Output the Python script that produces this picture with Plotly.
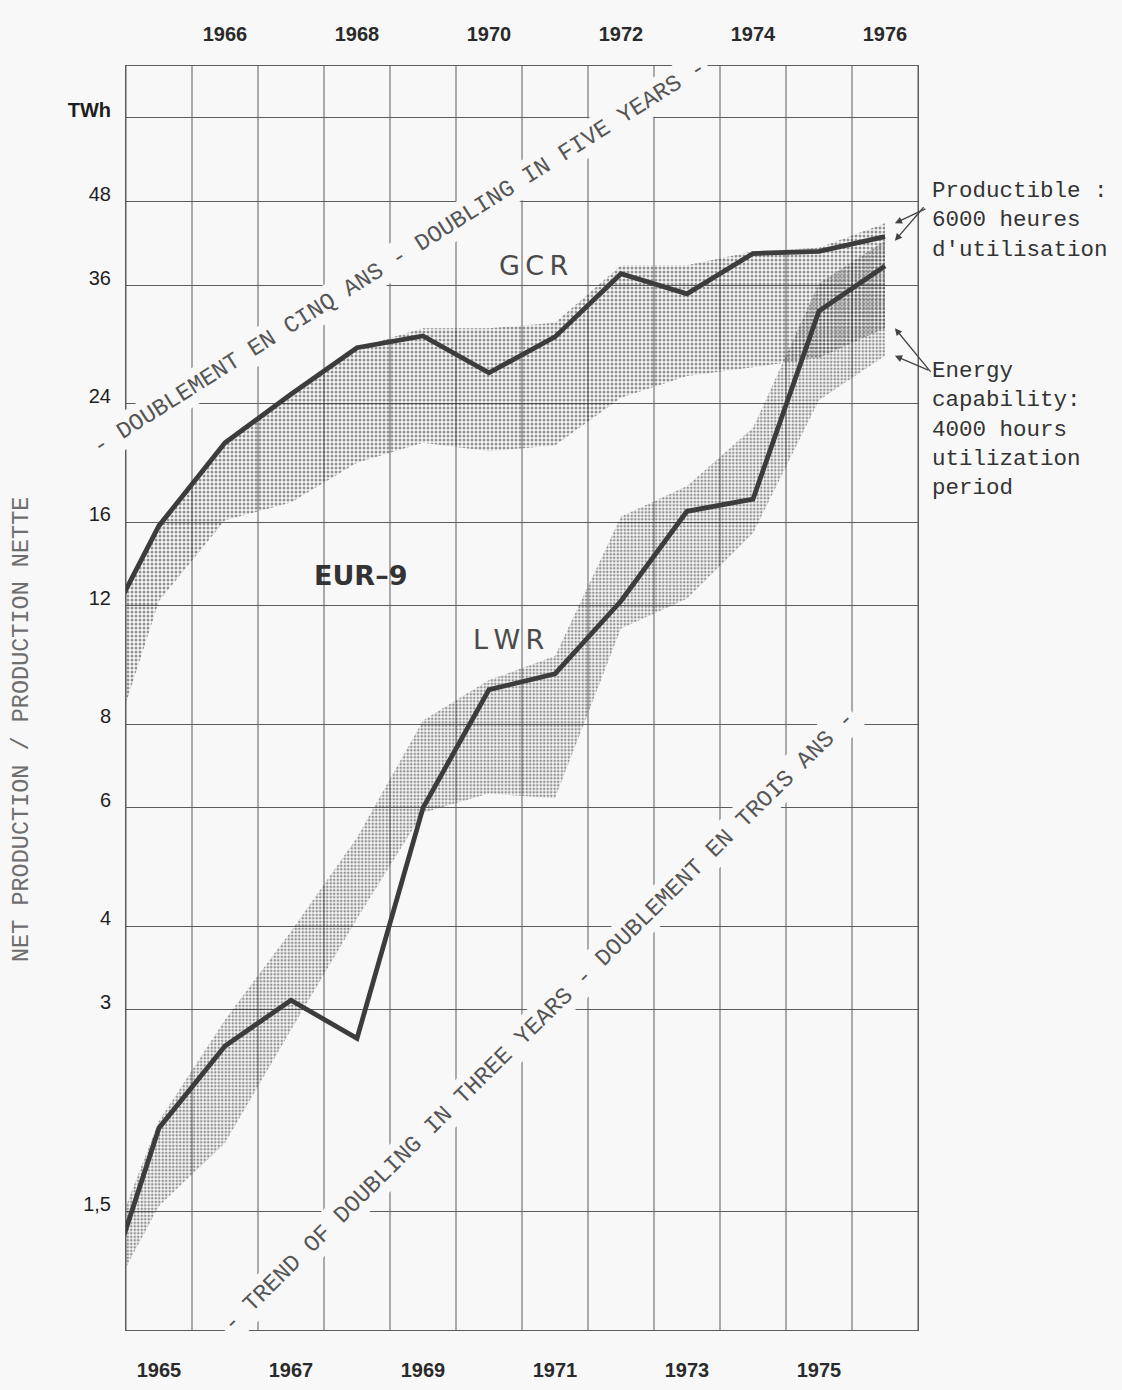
import math
import plotly.graph_objects as go

# Net nuclear production, EUR-9 (TWh), by year
years = [1964, 1965, 1966, 1967, 1968, 1969, 1970, 1971, 1972, 1973, 1974, 1975, 1976]
gcr_twh = [10.2, 15.8, 21.0, 24.8, 29.1, 30.3, 26.7, 30.2, 37.5, 35.0, 40.2, 40.5, 42.6]
lwr_twh = [1.0, 2.0, 2.65, 3.1, 2.72, 6.0, 9.0, 9.5, 12.2, 16.6, 17.3, 33.0, 38.5]

# Energy capability bands: 6000 h (upper edge) and 4000 h (lower edge)
band_years = [1964.5, 1965, 1966, 1967, 1968, 1969, 1970, 1971, 1972, 1973, 1974, 1975, 1976]
gcr_6000h = [12.6, 15.7, 21.0, 24.5, 29.1, 31.1, 31.1, 31.7, 38.6, 38.6, 40.5, 41.0, 44.6]
gcr_4000h = [8.6, 12.2, 16.1, 17.1, 19.6, 21.0, 20.4, 20.8, 24.5, 26.4, 27.2, 28.1, 31.1]
lwr_6000h = [1.53, 2.05, 2.9, 3.93, 5.42, 8.1, 9.3, 10.1, 16.3, 18.1, 22.1, 36.3, 42.0]
lwr_4000h = [1.24, 1.53, 1.9, 2.8, 4.1, 5.9, 6.3, 6.2, 11.1, 12.3, 15.4, 24.3, 28.3]

y_ticks = [1.5, 3, 4, 6, 8, 12, 16, 24, 36, 48, 64]
y_ticktext = ["1,5", "3", "4", "6", "8", "12", "16", "24", "36", "48", "<b>TWh</b>"]
top_years = [1966, 1968, 1970, 1972, 1974, 1976]
bottom_years = [1965, 1967, 1969, 1971, 1973, 1975]
x_range = [1964.5, 1976.5]
y_range = [1.0, 76.5]

BG = "#f8f8f8"
INK = "#3c3c3c"
GRID = "#5c5c5c"
MONO = "Liberation Mono, DejaVu Sans Mono, monospace"
SANS = "Liberation Sans, Arial, sans-serif"

fig = go.Figure()


def band(upper, lower, size):
    return go.Scatter(
        x=band_years + band_years[::-1],
        y=upper + lower[::-1],
        mode="lines",
        line=dict(width=0, color="rgba(0,0,0,0)"),
        fill="toself",
        fillcolor="rgba(0,0,0,0)",
        fillpattern=dict(shape=".", size=size, solidity=0.45,
                         fgcolor="#2a2a2a", bgcolor="rgba(0,0,0,0)"),
        hoverinfo="skip",
        showlegend=False,
    )


fig.add_trace(band(gcr_6000h, gcr_4000h, 4))
fig.add_trace(band(lwr_6000h, lwr_4000h, 3.5))

for vals in (gcr_twh, lwr_twh):
    fig.add_trace(go.Scatter(
        x=years, y=vals, mode="lines",
        line=dict(color=INK, width=4.8),
        hoverinfo="skip", showlegend=False,
    ))

# invisible trace that carries the top year axis
fig.add_trace(go.Scatter(
    x=x_range, y=y_range, xaxis="x2", mode="markers",
    marker=dict(opacity=0), hoverinfo="skip", showlegend=False,
))

# vertical rulings at the year boundaries
edges = [y - 0.5 for y in years[1:]] + [years[-1] + 0.5]
shapes = [
    dict(type="line", xref="x", yref="paper", x0=e, x1=e, y0=0, y1=1,
         line=dict(color=GRID, width=1), layer="below")
    for e in edges
]

annotations = [
    # trend lines labels
    dict(x=1968.64, y=math.log10(39.6), xref="x", yref="y",
         text="- DOUBLEMENT EN CINQ ANS - DOUBLING IN FIVE YEARS -",
         textangle=-32.2, showarrow=False, bgcolor=BG, borderpad=3,
         font=dict(family=MONO, size=23.5, color="#555555")),
    dict(x=1970.76, y=math.log10(2.88), xref="x", yref="y",
         text="- TREND OF DOUBLING IN THREE YEARS - DOUBLEMENT EN TROIS ANS -",
         textangle=-44.5, showarrow=False, bgcolor=BG, borderpad=3,
         font=dict(family=MONO, size=23.5, color="#555555")),
    # series labels
    dict(x=1970.67, y=math.log10(38.6), xref="x", yref="y",
         text="G\u2009C\u2009R", showarrow=False,
         font=dict(family="DejaVu Sans", size=27, color="#4a4a4a")),
    dict(x=1968.05, y=math.log10(13.3), xref="x", yref="y",
         text="<b>EUR\u20139</b>", showarrow=False,
         font=dict(family="DejaVu Sans", size=27, color="#333333")),
    dict(x=1970.29, y=math.log10(10.7), xref="x", yref="y",
         text="L\u2009W\u2009R", showarrow=False,
         font=dict(family="DejaVu Sans", size=27, color="#4a4a4a")),
    # axis title
    dict(x=-0.1313, y=0.4747, xref="paper", yref="paper",
         text="NET PRODUCTION / PRODUCTION NETTE", textangle=-90,
         showarrow=False, xanchor="center", yanchor="middle",
         font=dict(family=MONO, size=23.5, color="#6e6e6e")),
    # capability notes
    dict(x=1.0152, y=0.8774, xref="paper", yref="paper",
         text="Productible :<br>6000 heures<br>d'utilisation",
         showarrow=False, xanchor="left", yanchor="middle", align="left",
         font=dict(family=MONO, size=22.5, color="#333333")),
    dict(x=1.0152, y=0.7128, xref="paper", yref="paper",
         text="Energy<br>capability:<br>4000 hours<br>utilization<br>period",
         showarrow=False, xanchor="left", yanchor="middle", align="left",
         font=dict(family=MONO, size=22.5, color="#333333")),
]

# arrows from the notes to the band edges at 1976
arrow_tips = [
    (gcr_6000h[-1], 32, -15),
    (lwr_6000h[-1], 30, -35),
    (gcr_4000h[-1], 37, 45),
    (lwr_4000h[-1], 35, 15),
]
for val, ax, ay in arrow_tips:
    annotations.append(dict(
        x=band_years[-1] + 0.15, y=math.log10(val), xref="x", yref="y",
        text="", showarrow=True, ax=ax, ay=ay,
        arrowhead=2, arrowsize=1.1, arrowwidth=1.3, arrowcolor="#444444",
        standoff=0,
    ))

fig.update_layout(
    width=1122, height=1390,
    margin=dict(l=126, r=204, t=66, b=60),
    paper_bgcolor=BG, plot_bgcolor=BG,
    showlegend=False,
    shapes=shapes,
    annotations=annotations,
    xaxis=dict(
        range=x_range, tickmode="array", tickvals=bottom_years,
        ticktext=[f"<b>{y}</b>" for y in bottom_years],
        showgrid=False, zeroline=False, automargin=False,
        showline=True, mirror=True, linecolor=GRID, linewidth=1,
        ticks="", ticklabelstandoff=22,
        tickfont=dict(family=SANS, size=20, color="#2a2a2a"),
    ),
    xaxis2=dict(
        overlaying="x", side="top", matches="x", range=x_range,
        tickmode="array", tickvals=top_years,
        ticktext=[f"<b>{y}</b>" for y in top_years],
        showgrid=False, zeroline=False, showline=False, automargin=False,
        ticks="", ticklabelstandoff=20,
        tickfont=dict(family=SANS, size=20, color="#2a2a2a"),
    ),
    yaxis=dict(
        type="log", range=[math.log10(y_range[0]), math.log10(y_range[1])],
        tickmode="array", tickvals=y_ticks, ticktext=y_ticktext,
        showgrid=True, gridcolor=GRID, gridwidth=1, automargin=False,
        zeroline=False, showline=True, mirror=True, linecolor=GRID, linewidth=1,
        ticks="", ticklabelstandoff=10, ticklabelshift=-8,
        tickfont=dict(family=SANS, size=20, color="#1e1e1e"),
    ),
)

fig.write_html("out.html")
